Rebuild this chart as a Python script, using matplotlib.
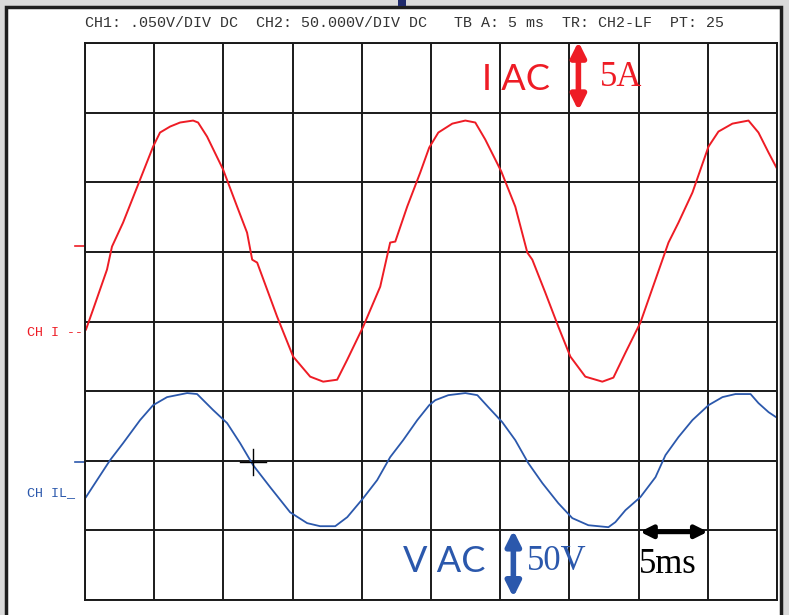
import matplotlib
matplotlib.use('Agg')
import matplotlib.pyplot as plt
from matplotlib.patches import Rectangle

# scope settings
ms_per_div = 5.0
amp_per_div = 5.0
volt_per_div = 50.0
i_zero_div = 5.09   # CH I reference marker
v_zero_div = 1.98   # CH IL reference marker

header = 'CH1: .050V/DIV DC  CH2: 50.000V/DIV DC   TB A: 5 ms  TR: CH2-LF  PT: 25'

# current trace (ms, A)
i_time = [0.07, 0.58, 1.59, 1.95, 2.75, 3.98, 4.92, 5.42, 6.15, 6.87, 7.81, 8.17,
          8.82, 9.98, 10.99, 11.71, 12.08, 12.44, 13.88, 15.04, 16.27, 17.21, 18.22,
          18.95, 20.10, 21.33, 22.05, 22.42, 23.28, 24.22, 24.87, 25.53, 26.54, 27.48,
          28.20, 28.92, 30.08, 31.09, 31.96, 32.32, 33.26, 34.20, 35.07, 36.15, 37.38,
          38.18, 39.05, 40.13, 41.22, 42.16, 42.88, 43.89, 45.05, 45.77, 46.78, 47.94,
          48.66, 49.39, 50.11]
i_amps = [-6.03, -4.60, -1.72, -0.07, 1.65, 4.74, 7.11, 8.12, 8.55, 8.84, 8.98, 8.84,
          7.83, 5.46, 2.80, 0.93, -1.01, -1.22, -5.10, -7.97, -9.41, -9.77, -9.63,
          -8.19, -5.82, -2.95, 0.22, 0.29, 2.80, 5.24, 7.04, 8.12, 8.76, 8.98,
          8.84, 7.62, 5.32, 2.80, -0.50, -1.01, -3.38, -5.82, -7.97, -9.41, -9.77,
          -9.48, -7.69, -5.53, -2.44, 0.22, 1.65, 3.81, 7.11, 8.19, 8.76, 8.98,
          8.12, 6.68, 5.32]

# voltage trace (ms, V)
v_time = [0.07, 0.87, 1.81, 2.75, 3.98, 4.92, 5.93, 7.38, 8.10, 9.26, 10.27, 11.21,
          12.15, 13.38, 14.82, 16.05, 16.99, 18.08, 18.95, 20.10, 21.11, 22.05, 22.99,
          24.01, 24.87, 25.31, 26.25, 27.48, 28.35, 29.14, 30.15, 31.09, 32.03, 33.05,
          34.20, 35.21, 36.37, 37.82, 38.32, 39.05, 40.13, 41.22, 41.94, 42.88, 43.89,
          45.05, 46.06, 47.00, 48.09, 48.66, 49.39, 50.04]
v_volts = [-25.1, -12.9, 1.4, 13.6, 30.2, 40.9, 46.7, 49.6, 48.9, 37.4, 28.0, 13.6,
           -2.2, -18.0, -36.0, -43.8, -46.0, -46.0, -39.5, -25.9, -12.9, 3.6, 15.8,
           30.2, 40.9, 44.5, 48.1, 49.6, 48.1, 39.5, 28.7, 15.8, -0.7, -15.1,
           -29.5, -40.2, -45.3, -46.7, -43.1, -34.5, -25.1, -10.8, 5.0, 18.0, 30.2,
           40.9, 46.7, 48.9, 48.9, 42.4, 35.9, 31.6]

cursor = (12.15, 1.98)

red = '#ee1c25'
blue = '#2b58ac'
W, H = 789, 615

fig = plt.figure(figsize=(W / 100, H / 100), dpi=100, facecolor='#dadada')

# screen frame
fig.add_artist(Rectangle((6 / W, -0.02), 775 / W, (H - 7) / H + 0.02,
                         transform=fig.transFigure, facecolor='white',
                         edgecolor='#1e1e1e', lw=2.5, zorder=-10))
fig.add_artist(Rectangle((398 / W, 1 - 6 / H), 8 / W, 6 / H,
                         transform=fig.transFigure, facecolor='#1f2a6b', lw=0, zorder=-5))

ax = fig.add_axes([85 / W, 15 / H, 692 / W, 557 / H])
ax.set_xlim(0, 10 * ms_per_div)
ax.set_ylim(0, 8)
ax.set_xticks([k * ms_per_div for k in range(11)])
ax.set_yticks(range(9))
ax.tick_params(length=0, labelbottom=False, labelleft=False)
ax.grid(True, color='#1a1a1a', lw=1.4)
ax.set_axisbelow(True)
ax.patch.set_alpha(0)
for s in ax.spines.values():
    s.set_color('#1a1a1a')
    s.set_linewidth(1.4)

ax.plot(i_time, [i_zero_div + a / amp_per_div for a in i_amps], color=red, lw=1.4)
ax.plot(v_time, [v_zero_div + v / volt_per_div for v in v_volts], color=blue, lw=1.3)

# cursor cross
cx, cy = cursor
ax.plot([cx - 0.95, cx + 0.95], [cy, cy], color='black', lw=1)
ax.plot([cx, cx], [cy - 0.19, cy + 0.19], color='black', lw=1)

# reference markers left of the graticule
ax.plot([-0.75, 0], [i_zero_div, i_zero_div], color=red, lw=1.2, clip_on=False)
ax.plot([-0.75, 0], [v_zero_div, v_zero_div], color=blue, lw=1.2, clip_on=False)

mono = 'Liberation Mono'
fig.text(85 / W, 1 - 23 / H, header, family=mono, size=10.8, va='center', color='#333333')
fig.text(27 / W, 1 - 333 / H, 'CH I --', family=mono, size=9.6, va='center', color=red)
fig.text(27 / W, 1 - 493 / H, 'CH IL_', family=mono, size=9.6, va='center', color=blue)

# annotations
sans = 'Lato'
serif = 'Liberation Serif'
ax.text(28.7, 7.47, 'I AC', family=sans, size=26, color=red, va='center', ha='left')
ax.text(37.2, 7.51, '5A', family=serif, size=25, color=red, va='center', ha='left')
ax.annotate('', xy=(35.65, 8.02), xytext=(35.65, 7.03),
            arrowprops=dict(arrowstyle='<|-|>', color=red, lw=4,
                            mutation_scale=22, shrinkA=0, shrinkB=0),
            annotation_clip=False)

ax.text(23.0, 0.56, 'V AC', family=sans, size=26, color=blue, va='center', ha='left')
ax.text(31.9, 0.56, '50V', family=serif, size=25, color=blue, va='center', ha='left')
ax.annotate('', xy=(30.95, 1.0), xytext=(30.95, 0.04),
            arrowprops=dict(arrowstyle='<|-|>', color=blue, lw=4,
                            mutation_scale=22, shrinkA=0, shrinkB=0),
            annotation_clip=False)

ax.annotate('', xy=(40.1, 0.98), xytext=(45.0, 0.98),
            arrowprops=dict(arrowstyle='<|-|>', color='black', lw=3.5,
                            mutation_scale=18, shrinkA=0, shrinkB=0),
            annotation_clip=False)
ax.text(40.0, 0.39, '5ms', family=serif, size=25, color='black', va='baseline', ha='left')

fig.savefig('out.png', dpi=100, facecolor=fig.get_facecolor())
